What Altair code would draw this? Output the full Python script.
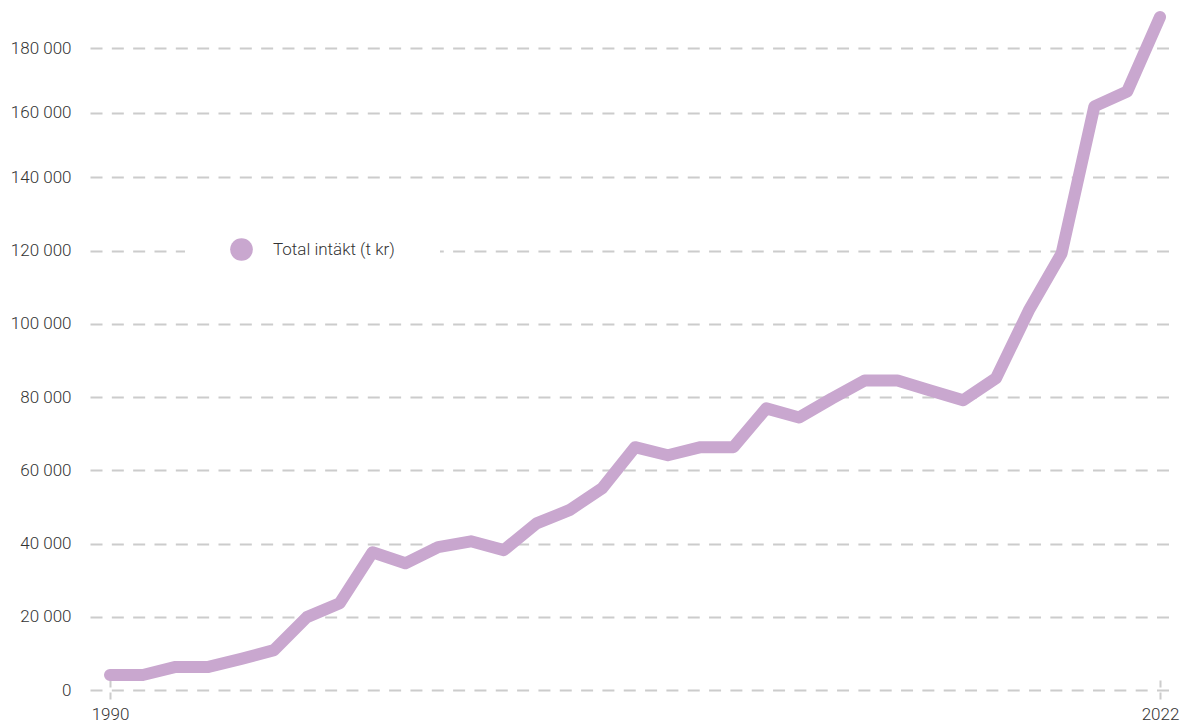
import altair as alt
import pandas as pd

years = list(range(1990, 2023))
values = [4100, 4100, 6300, 6300, 8500, 10900, 19900, 23700, 37600, 34600,
          39000, 40600, 38200, 45500, 49100, 55100, 66300, 64100, 66300, 66300,
          76900, 74400, 79600, 84500, 84500, 81800, 79100, 85100, 103600, 119200,
          162000, 166600, 189700]
series_name = "Total intäkt (t kr)"
y_ticks = [0, 20000, 40000, 60000, 80000, 100000, 120000, 140000, 160000, 180000]
x_ticks = [1990, 2022]

LINE_COLOR = "#c9a7cf"
GRID_COLOR = "#cccccc"
TEXT_COLOR = "#333333"
FONT = "Roboto"

df = pd.DataFrame({"year": years, "value": values, "series": [series_name] * len(years)})

chart = alt.Chart(df).mark_line(
    strokeWidth=12, strokeCap="round", strokeJoin="round"
).encode(
    x=alt.X(
        "year:Q",
        scale=alt.Scale(domain=[1989.3904, 2022.3048], nice=False, zero=False),
        axis=alt.Axis(
            values=x_ticks, format="d", title=None, grid=False, domain=False,
            ticks=True, tickSize=20, tickDash=[7, 5], tickColor=GRID_COLOR,
            tickWidth=2, offset=-10, labelPadding=6, labelFontSize=17,
            labelColor=TEXT_COLOR, labelFlush=False, labelFont=FONT,
            labelFontWeight=300,
        ),
    ),
    y=alt.Y(
        "value:Q",
        scale=alt.Scale(domain=[0, 140000, 180000], range=[682, 169.3, 40.3],
                        nice=False, zero=False),
        axis=alt.Axis(
            values=y_ticks, title=None, grid=True, gridDash=[12, 9.33],
            gridColor=GRID_COLOR, gridWidth=2, domain=False, ticks=False,
            tickSize=0, labelPadding=19, labelFontSize=17, labelColor=TEXT_COLOR,
            labelFont=FONT, labelFontWeight=300,
            labelExpr="datum.value >= 1000 ? floor(datum.value / 1000) + ' 000' : '0'",
        ),
    ),
    color=alt.Color(
        "series:N",
        scale=alt.Scale(range=[LINE_COLOR]),
        legend=alt.Legend(
            title=None, orient="none", legendX=95, legendY=185,
            symbolType="circle", symbolSize=515, symbolFillColor=LINE_COLOR,
            symbolStrokeColor=LINE_COLOR, symbolStrokeWidth=0,
            labelFontSize=17, labelColor=TEXT_COLOR, labelFont=FONT,
            labelFontWeight=300,
            labelOffset=20, padding=45, fillColor="white",
        ),
    ),
).properties(
    width=1080,
    height=682,
    autosize=alt.AutoSizeParams(type="none"),
    padding={"left": 82, "top": 0, "right": 10, "bottom": 34},
).configure(font=FONT).configure_view(strokeWidth=0, stroke="transparent")

chart.save("out.html", embed_options={"renderer": "svg", "actions": False})
